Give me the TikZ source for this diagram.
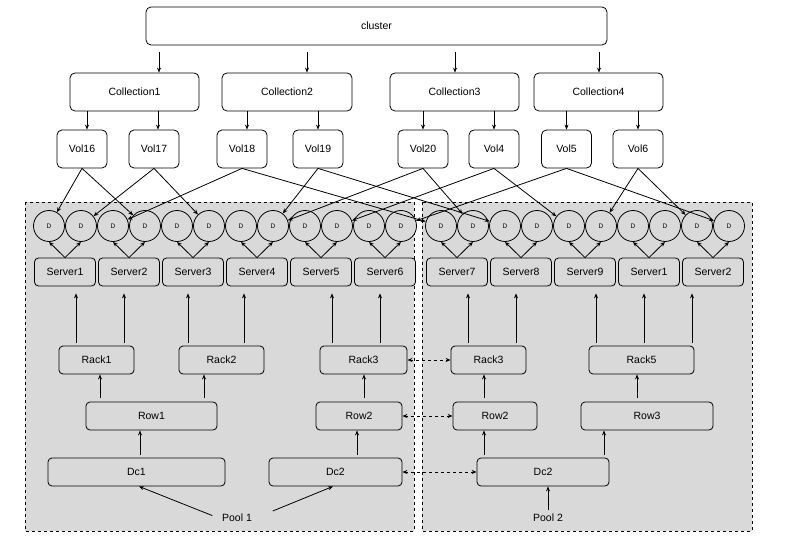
\documentclass[tikz,border=0pt]{standalone}
\usepackage{fontspec}
\setmainfont{Liberation Sans}
\usepackage{xcolor}
\usetikzlibrary{arrows.meta}
\definecolor{poolgray}{HTML}{D9D9D9}

\begin{document}
\begin{tikzpicture}[x=1pt, y=-1pt, line width=0.8pt,
    >={Stealth[length=5pt,width=4pt]},
    box/.style={draw, rounded corners=5pt, minimum height=38pt, inner sep=0pt,
        font=\fontsize{10.5}{12}\selectfont},
    hbox/.style={draw, fill=poolgray, rounded corners=4pt, minimum height=28pt,
        inner sep=0pt, font=\fontsize{10.5}{12}\selectfont},
    disk/.style={draw, circle, fill=poolgray, minimum size=31pt, inner sep=0pt,
        font=\fontsize{6.5}{7}\selectfont},
    pool/.style={draw, dashed, fill=poolgray},
    lbl/.style={font=\fontsize{10.5}{12}\selectfont}]
                        \useasboundingbox (0,0) rectangle (800,545);

                        % pools
                        \draw[pool] (25,202) rectangle (414,531);
                        \draw[pool] (422,202) rectangle (752,531);

                        % cluster and collections
                        \node[box, minimum width=461pt] (cl) at (376.5, 26) {cluster};
                        \node[box, minimum width=129pt] (c1) at (134.5, 92) {Collection1};
                        \node[box, minimum width=130pt] (c2) at (287, 92) {Collection2};
                        \node[box, minimum width=129pt] (c3) at (454.5, 92) {Collection3};
                        \node[box, minimum width=129pt] (c4) at (598.5, 92) {Collection4};

                        % volumes
                        \node[box, minimum width=50pt] (v16) at (82, 149) {Vol16};
                        \node[box, minimum width=50pt] (v17) at (154, 149) {Vol17};
                        \node[box, minimum width=50pt] (v18) at (242, 149) {Vol18};
                        \node[box, minimum width=50pt] (v19) at (318, 149) {Vol19};
                        \node[box, minimum width=50pt] (v20) at (423, 149) {Vol20};
                        \node[box, minimum width=50pt] (v4) at (494, 149) {Vol4};
                        \node[box, minimum width=50pt] (v5) at (566.5, 149) {Vol5};
                        \node[box, minimum width=50pt] (v6) at (638, 149) {Vol6};

                        % disks
                        \node[disk] (d1) at (49, 226) {D};
                        \node[disk] (d2) at (81, 226) {D};
                        \node[disk] (d3) at (113, 226) {D};
                        \node[disk] (d4) at (145, 226) {D};
                        \node[disk] (d5) at (177, 226) {D};
                        \node[disk] (d6) at (209, 226) {D};
                        \node[disk] (d7) at (241, 226) {D};
                        \node[disk] (d8) at (273, 226) {D};
                        \node[disk] (d9) at (305, 226) {D};
                        \node[disk] (d10) at (337, 226) {D};
                        \node[disk] (d11) at (369, 226) {D};
                        \node[disk] (d12) at (401, 226) {D};
                        \node[disk] (d13) at (441, 226) {D};
                        \node[disk] (d14) at (473, 226) {D};
                        \node[disk] (d15) at (505, 226) {D};
                        \node[disk] (d16) at (537, 226) {D};
                        \node[disk] (d17) at (569, 226) {D};
                        \node[disk] (d18) at (601, 226) {D};
                        \node[disk] (d19) at (633, 226) {D};
                        \node[disk] (d20) at (665, 226) {D};
                        \node[disk] (d21) at (697, 226) {D};
                        \node[disk] (d22) at (729, 226) {D};

                        % servers
                        \node[hbox, minimum width=61pt] (s1) at (65, 272) {Server1};
                        \node[hbox, minimum width=61pt] (s2) at (129, 272) {Server2};
                        \node[hbox, minimum width=61pt] (s3) at (193, 272) {Server3};
                        \node[hbox, minimum width=61pt] (s4) at (257, 272) {Server4};
                        \node[hbox, minimum width=61pt] (s5) at (321, 272) {Server5};
                        \node[hbox, minimum width=61pt] (s6) at (385, 272) {Server6};
                        \node[hbox, minimum width=61pt] (s7) at (457, 272) {Server7};
                        \node[hbox, minimum width=61pt] (s8) at (521, 272) {Server8};
                        \node[hbox, minimum width=61pt] (s9) at (585, 272) {Server9};
                        \node[hbox, minimum width=61pt] (s10) at (649, 272) {Server1};
                        \node[hbox, minimum width=61pt] (s11) at (713, 272) {Server2};

                        % racks, rows, dcs
                        \node[hbox, minimum width=75pt] (r1) at (96.5, 360) {Rack1};
                        \node[hbox, minimum width=85pt] (r2) at (221.5, 360) {Rack2};
                        \node[hbox, minimum width=87pt] (r3) at (363.5, 360) {Rack3};
                        \node[hbox, minimum width=75pt] (r4) at (488.5, 360) {Rack3};
                        \node[hbox, minimum width=105pt] (r5) at (641.5, 360) {Rack5};
                        \node[hbox, minimum width=131pt] (w1) at (151.5, 416) {Row1};
                        \node[hbox, minimum width=86pt] (w2) at (359, 416) {Row2};
                        \node[hbox, minimum width=84pt] (w3) at (495, 416) {Row2};
                        \node[hbox, minimum width=132pt] (w4) at (647, 416) {Row3};
                        \node[hbox, minimum width=177pt] (dc1) at (136.5, 472) {Dc1};
                        \node[hbox, minimum width=133pt] (dc2) at (335.5, 472) {Dc2};
                        \node[hbox, minimum width=132pt] (dc3) at (543, 472) {Dc2};
                        \node[lbl] (p1) at (237, 518) {Pool 1};
                        \node[lbl] (p2) at (548, 518) {Pool 2};

                        % cluster -> collections -> volumes
                        \draw[->, shorten <=7pt] ([xshift=-217.5pt]cl.south) -- ([xshift=-217.5pt]cl.south |- c1.north);
                        \draw[->, shorten <=7pt] ([xshift=-69.5pt]cl.south) -- ([xshift=-69.5pt]cl.south |- c2.north);
                        \draw[->, shorten <=7pt] ([xshift=78.5pt]cl.south) -- ([xshift=78.5pt]cl.south |- c3.north);
                        \draw[->, shorten <=7pt] ([xshift=222.5pt]cl.south) -- ([xshift=222.5pt]cl.south |- c4.north);
                        \draw[->] ([xshift=5pt]v16.north |- c1.south) -- ([xshift=5pt]v16.north);
                        \draw[->] ([xshift=4pt]v17.north |- c1.south) -- ([xshift=4pt]v17.north);
                        \draw[->] ([xshift=5pt]v18.north |- c2.south) -- ([xshift=5pt]v18.north);
                        \draw[->] (v19.north |- c2.south) -- (v19.north);
                        \draw[->] (v20.north |- c3.south) -- (v20.north);
                        \draw[->] (v4.north |- c3.south) -- (v4.north);
                        \draw[->] (v5.north |- c4.south) -- (v5.north);
                        \draw[->] (v6.north |- c4.south) -- (v6.north);

                        % volumes -> disks
                        \draw
                        (v16.south) edge[->] (d1)
                        (v16.south) edge[->] (d4)
                        (v17.south) edge[->] (d2)
                        (v17.south) edge[->] (d6)
                        (v18.south) edge[->] (d3)
                        (v18.south) edge[->] (d13)
                        (v19.south) edge[->] (d8)
                        (v19.south) edge[->] (d15)
                        (v20.south) edge[->] (d8)
                        (v20.south) edge[->] (d14)
                        (v4.south) edge[->] (d10)
                        (v4.south) edge[->] (d17)
                        (v5.south) edge[->] (d12)
                        (v5.south) edge[->] (d22)
                        (v6.south) edge[->] (d18)
                        (v6.south) edge[->] (d21);

                        % servers -> disks
                        \draw
                        (s1.north) edge[->] (d1.south) (s1.north) edge[->] (d2.south)
                        (s2.north) edge[->] (d3.south) (s2.north) edge[->] (d4.south)
                        (s3.north) edge[->] (d5.south) (s3.north) edge[->] (d6.south)
                        (s4.north) edge[->] (d7.south) (s4.north) edge[->] (d8.south)
                        (s5.north) edge[->] (d9.south) (s5.north) edge[->] (d10.south)
                        (s6.north) edge[->] (d11.south) (s6.north) edge[->] (d12.south)
                        (s7.north) edge[->] (d13.south) (s7.north) edge[->] (d14.south)
                        (s8.north) edge[->] (d15.south) (s8.north) edge[->] (d16.south)
                        (s9.north) edge[->] (d17.south) (s9.north) edge[->] (d18.south)
                        (s10.north) edge[->] (d19.south) (s10.north) edge[->] (d20.south)
                        (s11.north) edge[->] (d21.south) (s11.north) edge[->] (d22.south);

                        % racks -> servers
                        \begin{scope}[shorten <=3pt, shorten >=7pt]
                        \draw[->] ([xshift=-20.5pt]r1.north) -- ([xshift=-20.5pt]r1.north |- s1.south);
                        \draw[->] ([xshift=27.5pt]r1.north) -- ([xshift=27.5pt]r1.north |- s2.south);
                        \draw[->] ([xshift=-33.5pt]r2.north) -- ([xshift=-33.5pt]r2.north |- s3.south);
                        \draw[->] ([xshift=22.5pt]r2.north) -- ([xshift=22.5pt]r2.north |- s4.south);
                        \draw[->] ([xshift=-31.5pt]r3.north) -- ([xshift=-31.5pt]r3.north |- s5.south);
                        \draw[->] ([xshift=16.5pt]r3.north) -- ([xshift=16.5pt]r3.north |- s6.south);
                        \draw[->] ([xshift=-20.5pt]r4.north) -- ([xshift=-20.5pt]r4.north |- s7.south);
                        \draw[->] ([xshift=27.5pt]r4.north) -- ([xshift=27.5pt]r4.north |- s8.south);
                        \draw[->] ([xshift=-45.5pt]r5.north) -- ([xshift=-45.5pt]r5.north |- s9.south);
                        \draw[->] ([xshift=2.5pt]r5.north) -- ([xshift=2.5pt]r5.north |- s10.south);
                        \draw[->] ([xshift=50.5pt]r5.north) -- ([xshift=50.5pt]r5.north |- s11.south);
                        \end{scope}

                        % rows -> racks, dcs -> rows
                        \draw[->, shorten <=4pt] ([xshift=-51.5pt]w1.north) -- ([xshift=-51.5pt]w1.north |- r1.south);
                        \draw[->, shorten <=4pt] ([xshift=52.5pt]w1.north) -- ([xshift=52.5pt]w1.north |- r2.south);
                        \draw[->, shorten <=4pt] ([xshift=5pt]w2.north) -- ([xshift=5pt]w2.north |- r3.south);
                        \draw[->, shorten <=4pt] ([xshift=-11pt]w3.north) -- ([xshift=-11pt]w3.north |- r4.south);
                        \draw[->, shorten <=4pt] ([xshift=-10pt]w4.north) -- ([xshift=-10pt]w4.north |- r5.south);
                        \draw[->, shorten <=3pt] ([xshift=3.5pt]dc1.north) -- ([xshift=3.5pt]dc1.north |- w1.south);
                        \draw[->, shorten <=3pt] ([xshift=21.5pt]dc2.north) -- ([xshift=21.5pt]dc2.north |- w2.south);
                        \draw[->, shorten <=3pt] ([xshift=-59pt]dc3.north) -- ([xshift=-59pt]dc3.north |- w3.south);
                        \draw[->, shorten <=3pt] ([xshift=61pt]dc3.north) -- ([xshift=61pt]dc3.north |- w4.south);

                        % links between pools
                        \draw
                        (r3.east) edge[<->, dashed] (r4.west)
                        (w2.east) edge[<->, dashed] (w3.west)
                        (dc2.east) edge[<->, dashed] (dc3.west);

                        % pools -> dcs
                        \draw[->, shorten <=6.5pt] (p1.west) -- ([xshift=2.5pt]dc1.south);
                        \draw[->, shorten <=18.5pt] (p1.east) -- ([xshift=-2.5pt]dc2.south);
                        \draw[->] (p2.north) -- (p2.north |- dc3.south);
                    \end{tikzpicture}
\end{document}
